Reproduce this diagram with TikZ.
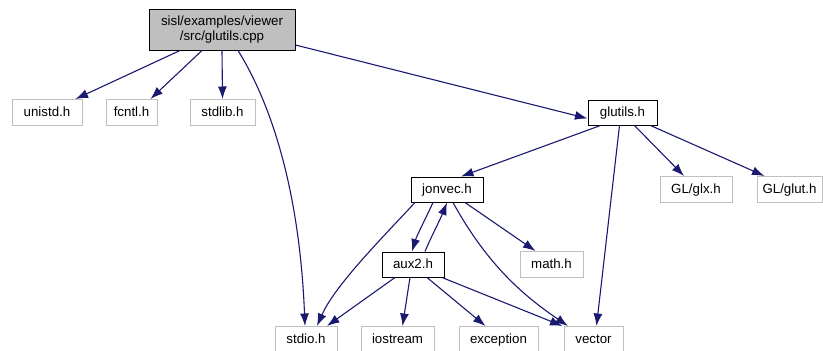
\documentclass[tikz,border=0pt]{standalone}
\usepackage{fontspec}
\setmainfont{Liberation Sans}
\usetikzlibrary{arrows.meta}
\definecolor{edgeblue}{HTML}{191970}
\definecolor{sysgray}{HTML}{BFBFBF}
\begin{document}
\begin{tikzpicture}[x=1pt,y=-1pt,
  every node/.style={font=\fontsize{13.3}{15}\selectfont, inner sep=0pt, minimum height=26pt},
  onetext/.style={text height=9.8pt, text depth=2.8pt},
  filebox/.style={draw=black, line width=1pt, onetext},
  sysbox/.style={draw=sysgray, line width=1pt, onetext},
  rootbox/.style={draw=black, fill=sysgray, line width=1pt, align=center},
  dep/.style={draw=edgeblue, line width=1.1pt, -{Latex[length=12.5pt,width=9pt]}}]
\useasboundingbox (0,0) rectangle (823,351);

% files
\node[rootbox, minimum width=146pt, minimum height=41pt] (root) at (222,29.5) {sisl/examples/viewer\\/src/glutils.cpp};
\node[sysbox, minimum width=70pt] (unistd) at (47,112.5) {unistd.h};
\node[sysbox, minimum width=51pt] (fcntl) at (131.5,112.5) {fcntl.h};
\node[sysbox, minimum width=65pt] (stdlib) at (222.5,112.5) {stdlib.h};
\node[filebox, minimum width=69pt, minimum height=25pt] (glutils) at (622.5,112.5) {glutils.h};
\node[sysbox, minimum width=72pt] (glx) at (696,189.5) {GL/glx.h};
\node[sysbox, minimum width=65pt] (glut) at (789.5,189.5) {GL/glut.h};
\node[filebox, minimum width=72pt, minimum height=25pt] (jonvec) at (447,189.5) {jonvec.h};
\node[filebox, minimum width=62pt, minimum height=25pt] (aux2) at (413,264.5) {aux2.h};
\node[sysbox, minimum width=63pt] (math) at (551.5,264.5) {math.h};
\node[sysbox, minimum width=62pt] (stdio) at (306,339.5) {stdio.h};
\node[sysbox, minimum width=73pt] (iostream) at (397.5,339.5) {iostream};
\node[sysbox, minimum width=79pt] (exception) at (498.5,339.5) {exception};
\node[sysbox, minimum width=59pt] (vector) at (593.5,339.5) {vector};

% includes of glutils.cpp
\draw[dep] ([xshift=-42pt]root.south) -- ([xshift=-7pt]unistd.north east);
\draw[dep] ([xshift=-20pt]root.south) -- ([xshift=-7pt]fcntl.north east);
\draw[dep] ([xshift=0pt]root.south) -- (stdlib.north);
\draw[dep] ([xshift=16pt]root.south) .. controls (275,110) and (300,200) .. ([xshift=-1pt]stdio.north);
\draw[dep] ([yshift=-15.5pt]root.east) -- ([yshift=-6pt]glutils.west);

% includes of glutils.h
\draw[dep] ([xshift=-22pt]glutils.south) -- ([xshift=14pt]jonvec.north);
\draw[dep] ([xshift=-3pt]glutils.south) -- ([xshift=3pt]vector.north);
\draw[dep] ([xshift=12pt]glutils.south) -- ([xshift=-12pt]glx.north);
\draw[dep] ([xshift=28pt]glutils.south) -- ([xshift=-25pt]glut.north);

% includes of jonvec.h
\draw[dep] ([xshift=-14pt]jonvec.south) .. controls (425,220) and (417,235) .. ([xshift=-1pt]aux2.north);
\draw[dep] ([xshift=-32pt]jonvec.south) .. controls (385,235) and (335,285) .. ([xshift=11pt]stdio.north);
\draw[dep] ([xshift=18pt]jonvec.south) -- ([xshift=-16pt]math.north);
\draw[dep] ([xshift=6pt]jonvec.south) .. controls (490,270) and (530,300) .. ([xshift=-25.5pt]vector.north);

% includes of aux2.h
\draw[dep] ([xshift=12pt]aux2.north) .. controls (432,235) and (440,220) .. ([xshift=0pt]jonvec.south);
\draw[dep] ([xshift=-18pt]aux2.south) -- ([xshift=21pt]stdio.north);
\draw[dep] ([xshift=-3pt]aux2.south) -- ([xshift=5pt]iostream.north);
\draw[dep] ([xshift=14pt]aux2.south) -- ([xshift=-13pt]exception.north);
\draw[dep] ([xshift=29pt]aux2.south) -- ([xshift=-31pt]vector.north);
\end{tikzpicture}
\end{document}
